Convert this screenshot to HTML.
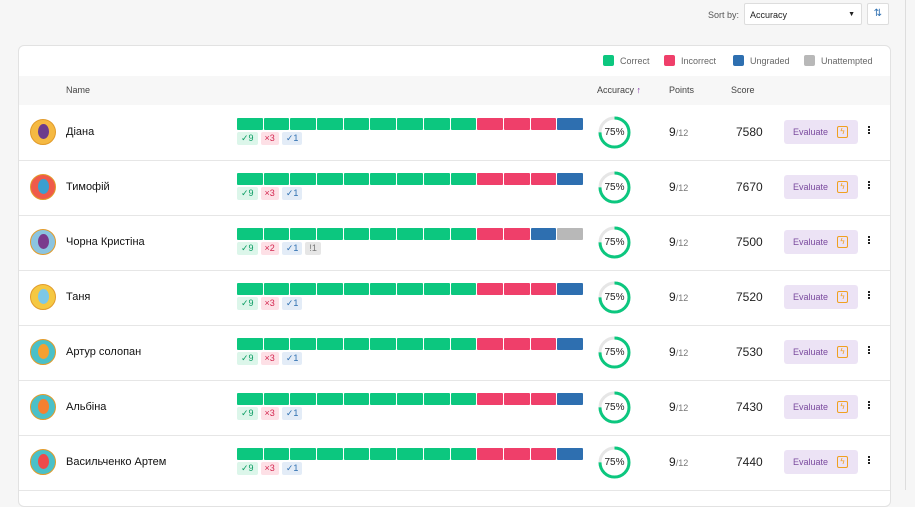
<!DOCTYPE html>
<html><head><meta charset="utf-8"><style>
body{margin:0;width:915px;height:490px;background:#f6f6f6;font-family:"Liberation Sans","DejaVu Sans",sans-serif;overflow:hidden;position:relative;color:#222}
.abs{position:absolute}
.card{position:absolute;left:18px;top:45px;width:871px;height:460px;background:#fff;border:1px solid #e2e2e2;border-radius:6px}
.hdr{position:absolute;left:19px;top:76px;width:871px;height:29px;background:#f7f7f7;font-size:9px;color:#444}
.row{position:absolute;left:19px;width:871px;height:55px;border-bottom:1px solid #e6e6e6}
.av{position:absolute;left:11px;top:14px;width:26px;height:26px;border-radius:50%;background:#f5b942;border:1px solid #e29b2a;box-sizing:border-box}
.av i{position:absolute;left:7px;top:4px;width:11px;height:15px;border-radius:50%;background:#6c3c8c}
.nm{position:absolute;left:47px;top:21px;font-size:11px;color:#111}
.bars{position:absolute;left:218px;top:13px;width:346px;height:12px;display:flex;gap:1px}
.bars b{flex:1;border-radius:1px;background:#0cc77f}
.bars b.r{background:#ef3f6a}.bars b.u{background:#2e6fb0}.bars b.n{background:#b8b8b8}
.bd{position:absolute;left:218px;top:27px;display:flex;gap:3px;font-size:9px}
.bd span{padding:1px 4px;border-radius:2px;line-height:11px}
.g{background:#dcf6ea;color:#0a9c62}.rr{background:#fde0e6;color:#d3264f}.bl{background:#e3ecf7;color:#2e6fb0}.gr{background:#e6e6e6;color:#777}
.dn{position:absolute;left:579px;top:11px;width:33px;height:33px}
.dn span{position:absolute;left:0;top:11px;width:33px;text-align:center;font-size:10px;color:#222}
.pt{position:absolute;left:650px;top:20px;font-size:12px}
.pt small{font-size:9px;color:#777}
.sc{position:absolute;left:717px;top:20px;font-size:12px}
.ev{position:absolute;left:765px;top:15px;width:74px;height:24px;background:#ece3f5;border-radius:3px;font-size:9px;color:#7a4a9e;line-height:24px;padding-left:9px;box-sizing:border-box}
.ev i{position:absolute;left:53px;top:6px;width:9px;height:10px;border:1px solid #f0a020;border-radius:2px;font-style:normal;font-size:8px;color:#f0a020;line-height:10px;text-align:center}
.dt{position:absolute;left:849px;top:21px;width:2px;height:2px;background:#222;box-shadow:0 3px 0 #222,0 6px 0 #222}
.lg{position:absolute;top:55px;font-size:9px;color:#666}
.lg b{display:inline-block;width:11px;height:11px;border-radius:2px;vertical-align:-2px;margin-right:6px}
</style></head><body>
<div class="abs" style="left:708px;top:10px;font-size:9px;color:#555">Sort by:</div>
<div class="abs" style="left:744px;top:3px;width:118px;height:22px;background:#fff;border:1px solid #ddd;border-radius:2px;font-size:9px;line-height:22px;padding-left:5px;box-sizing:border-box">Accuracy<span style="position:absolute;right:6px;font-size:7px">▼</span></div>
<div class="abs" style="left:867px;top:3px;width:22px;height:22px;background:#fff;border:1px solid #ddd;border-radius:2px;box-sizing:border-box;font-size:10px;color:#2e6fb0;text-align:center;line-height:20px">⇅</div>
<div class="abs" style="left:905px;top:0;width:1px;height:490px;background:#ddd"></div>
<div class="card"></div>
<div class="lg" style="left:603px"><b style="background:#0cc77f"></b>Correct</div>
<div class="lg" style="left:664px"><b style="background:#ef3f6a"></b>Incorrect</div>
<div class="lg" style="left:733px"><b style="background:#2e6fb0"></b>Ungraded</div>
<div class="lg" style="left:804px"><b style="background:#b8b8b8"></b>Unattempted</div>
<div class="hdr"><span class="abs" style="left:47px;top:9px">Name</span><span class="abs" style="left:578px;top:9px">Accuracy <span style="color:#7a2a9e">↑</span></span><span class="abs" style="left:650px;top:9px">Points</span><span class="abs" style="left:712px;top:9px">Score</span></div>

<div class="row" style="top:105px"><div class="av"><i></i></div><div class="nm">Діана</div><div class="bars"><b></b><b></b><b></b><b></b><b></b><b></b><b></b><b></b><b></b><b class="r"></b><b class="r"></b><b class="r"></b><b class="u"></b></div><div class="bd"><span class="g">✓9</span><span class="rr">×3</span><span class="bl">✓1</span></div><div class="dn"><svg width="33" height="33"><circle cx="16.5" cy="16.5" r="14.5" fill="none" stroke="#e6e6e6" stroke-width="3"/><circle cx="16.5" cy="16.5" r="14.5" fill="none" stroke="#0cc77f" stroke-width="3" stroke-dasharray="68.3 91.1" transform="rotate(-90 16.5 16.5)"/></svg><span>75%</span></div><div class="pt">9<small>/12</small></div><div class="sc">7580</div><div class="ev">Evaluate<i>ϟ</i></div><div class="dt"></div></div>
<div class="row" style="top:160px"><div class="av" style="background:#ef5a4a"><i style="background:#3a9fd0"></i></div><div class="nm">Тимофій</div><div class="bars"><b></b><b></b><b></b><b></b><b></b><b></b><b></b><b></b><b></b><b class="r"></b><b class="r"></b><b class="r"></b><b class="u"></b></div><div class="bd"><span class="g">✓9</span><span class="rr">×3</span><span class="bl">✓1</span></div><div class="dn"><svg width="33" height="33"><circle cx="16.5" cy="16.5" r="14.5" fill="none" stroke="#e6e6e6" stroke-width="3"/><circle cx="16.5" cy="16.5" r="14.5" fill="none" stroke="#0cc77f" stroke-width="3" stroke-dasharray="68.3 91.1" transform="rotate(-90 16.5 16.5)"/></svg><span>75%</span></div><div class="pt">9<small>/12</small></div><div class="sc">7670</div><div class="ev">Evaluate<i>ϟ</i></div><div class="dt"></div></div>
<div class="row" style="top:215px"><div class="av" style="background:#8bc4e0"><i style="background:#7a3a8c"></i></div><div class="nm">Чорна Кристіна</div><div class="bars"><b></b><b></b><b></b><b></b><b></b><b></b><b></b><b></b><b></b><b class="r"></b><b class="r"></b><b class="u"></b><b class="n"></b></div><div class="bd"><span class="g">✓9</span><span class="rr">×2</span><span class="bl">✓1</span><span class="gr">!1</span></div><div class="dn"><svg width="33" height="33"><circle cx="16.5" cy="16.5" r="14.5" fill="none" stroke="#e6e6e6" stroke-width="3"/><circle cx="16.5" cy="16.5" r="14.5" fill="none" stroke="#0cc77f" stroke-width="3" stroke-dasharray="68.3 91.1" transform="rotate(-90 16.5 16.5)"/></svg><span>75%</span></div><div class="pt">9<small>/12</small></div><div class="sc">7500</div><div class="ev">Evaluate<i>ϟ</i></div><div class="dt"></div></div>
<div class="row" style="top:270px"><div class="av" style="background:#f5c842"><i style="background:#7cc8e8"></i></div><div class="nm">Таня</div><div class="bars"><b></b><b></b><b></b><b></b><b></b><b></b><b></b><b></b><b></b><b class="r"></b><b class="r"></b><b class="r"></b><b class="u"></b></div><div class="bd"><span class="g">✓9</span><span class="rr">×3</span><span class="bl">✓1</span></div><div class="dn"><svg width="33" height="33"><circle cx="16.5" cy="16.5" r="14.5" fill="none" stroke="#e6e6e6" stroke-width="3"/><circle cx="16.5" cy="16.5" r="14.5" fill="none" stroke="#0cc77f" stroke-width="3" stroke-dasharray="68.3 91.1" transform="rotate(-90 16.5 16.5)"/></svg><span>75%</span></div><div class="pt">9<small>/12</small></div><div class="sc">7520</div><div class="ev">Evaluate<i>ϟ</i></div><div class="dt"></div></div>
<div class="row" style="top:325px"><div class="av" style="background:#4ac0c8"><i style="background:#f5a030"></i></div><div class="nm">Артур солопан</div><div class="bars"><b></b><b></b><b></b><b></b><b></b><b></b><b></b><b></b><b></b><b class="r"></b><b class="r"></b><b class="r"></b><b class="u"></b></div><div class="bd"><span class="g">✓9</span><span class="rr">×3</span><span class="bl">✓1</span></div><div class="dn"><svg width="33" height="33"><circle cx="16.5" cy="16.5" r="14.5" fill="none" stroke="#e6e6e6" stroke-width="3"/><circle cx="16.5" cy="16.5" r="14.5" fill="none" stroke="#0cc77f" stroke-width="3" stroke-dasharray="68.3 91.1" transform="rotate(-90 16.5 16.5)"/></svg><span>75%</span></div><div class="pt">9<small>/12</small></div><div class="sc">7530</div><div class="ev">Evaluate<i>ϟ</i></div><div class="dt"></div></div>
<div class="row" style="top:380px"><div class="av" style="background:#4ac0c8"><i style="background:#f58030"></i></div><div class="nm">Альбіна</div><div class="bars"><b></b><b></b><b></b><b></b><b></b><b></b><b></b><b></b><b></b><b class="r"></b><b class="r"></b><b class="r"></b><b class="u"></b></div><div class="bd"><span class="g">✓9</span><span class="rr">×3</span><span class="bl">✓1</span></div><div class="dn"><svg width="33" height="33"><circle cx="16.5" cy="16.5" r="14.5" fill="none" stroke="#e6e6e6" stroke-width="3"/><circle cx="16.5" cy="16.5" r="14.5" fill="none" stroke="#0cc77f" stroke-width="3" stroke-dasharray="68.3 91.1" transform="rotate(-90 16.5 16.5)"/></svg><span>75%</span></div><div class="pt">9<small>/12</small></div><div class="sc">7430</div><div class="ev">Evaluate<i>ϟ</i></div><div class="dt"></div></div>
<div class="row" style="top:435px"><div class="av" style="background:#4ac0c8"><i style="background:#ef4a4a"></i></div><div class="nm">Васильченко Артем</div><div class="bars"><b></b><b></b><b></b><b></b><b></b><b></b><b></b><b></b><b></b><b class="r"></b><b class="r"></b><b class="r"></b><b class="u"></b></div><div class="bd"><span class="g">✓9</span><span class="rr">×3</span><span class="bl">✓1</span></div><div class="dn"><svg width="33" height="33"><circle cx="16.5" cy="16.5" r="14.5" fill="none" stroke="#e6e6e6" stroke-width="3"/><circle cx="16.5" cy="16.5" r="14.5" fill="none" stroke="#0cc77f" stroke-width="3" stroke-dasharray="68.3 91.1" transform="rotate(-90 16.5 16.5)"/></svg><span>75%</span></div><div class="pt">9<small>/12</small></div><div class="sc">7440</div><div class="ev">Evaluate<i>ϟ</i></div><div class="dt"></div></div>
</body></html>
